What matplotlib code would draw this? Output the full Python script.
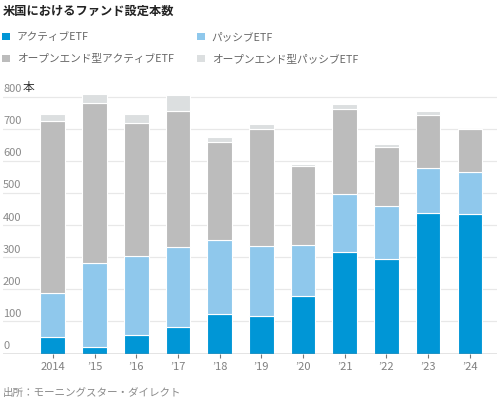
import matplotlib
matplotlib.use("Agg")
import matplotlib.pyplot as plt
import matplotlib.transforms as mtransforms
from matplotlib.patches import Patch
import numpy as np

plt.rcParams['font.family'] = ['Noto Sans CJK JP', 'DejaVu Sans']

# Data
years = ["2014", "’15", "’16", "’17", "’18", "’19", "’20", "’21", "’22", "’23", "’24"]
active_etf = [51, 20, 57, 82, 124, 117, 179, 317, 293, 437, 434]
passive_etf = [136, 261, 246, 251, 229, 219, 158, 180, 168, 141, 131]
openend_active = [538, 501, 416, 422, 305, 365, 248, 266, 183, 166, 136]
openend_passive = [20, 27, 28, 52, 17, 13, 7, 13, 9, 11, 0]
yticks = [0, 100, 200, 300, 400, 500, 600, 700, 800]

labels = ["アクティブETF", "パッシブETF", "オープンエンド型アクティブETF", "オープンエンド型パッシブETF"]
colors = ["#0096d6", "#8fc8ec", "#bcbcbc", "#dcdfe0"]

fig = plt.figure(figsize=(5.0, 4.03), dpi=100)
ax = fig.add_axes([0.006, 0.1228, 0.988, 0.653])

x = np.arange(len(years))
bottom = np.zeros(len(years))
handles = []
for vals, col, lab in zip([active_etf, passive_etf, openend_active, openend_passive], colors, labels):
    ax.bar(x, vals, bottom=bottom, width=0.59, color=col, edgecolor="white",
           linewidth=0.8, zorder=3)
    bottom += np.array(vals)
    handles.append(Patch(facecolor=col, edgecolor="none", label=lab))

ax.set_xlim(-1.194, 10.65)
ax.set_ylim(0, 820)

# grid + baseline
for v in yticks[1:]:
    ax.axhline(v, color="#e8e8e8", linewidth=0.9, zorder=1)
ax.axhline(0, color="#777777", linewidth=1.0, zorder=4)

for s in ax.spines.values():
    s.set_visible(False)
ax.set_yticks([])
ax.set_xticks(x)
ax.set_xticklabels(years, fontsize=8, color="#808080")
ax.tick_params(axis="x", length=3, width=0.8, color="#777777", pad=3)

# y labels drawn inside the plot area, above each gridline
trans = mtransforms.blended_transform_factory(fig.transFigure, ax.transData)
for v in yticks:
    t = ax.text(0.006, v + 8, str(v), transform=trans, ha="left", va="bottom",
                fontsize=8, color="#8a8a8a", zorder=5)
    t.set_bbox(dict(facecolor="white", edgecolor="none", pad=1.0))
ax.text(0.045, 808, "本", transform=trans, ha="left", va="bottom",
        fontsize=8.5, color="#333333", zorder=6)

# title
fig.text(0.006, 0.973, "米国におけるファンド設定本数", ha="left", va="center",
         fontsize=8.8, fontweight="bold", color="#222222")

# legend
order = [0, 2, 1, 3]
fig.legend([handles[i] for i in order], [labels[i] for i in order],
           loc="upper left", bbox_to_anchor=(-0.004, 0.9305), ncol=2,
           frameon=False, fontsize=7.7, labelcolor="#666666",
           handlelength=0.75, handleheight=0.75, handletextpad=0.6,
           columnspacing=2.2, labelspacing=1.12, borderaxespad=0)

# source
fig.text(0.006, 0.026, "出所：モーニングスター・ダイレクト", ha="left", va="center",
         fontsize=7.6, color="#8a8a8a")

fig.savefig("out.png", dpi=100)
